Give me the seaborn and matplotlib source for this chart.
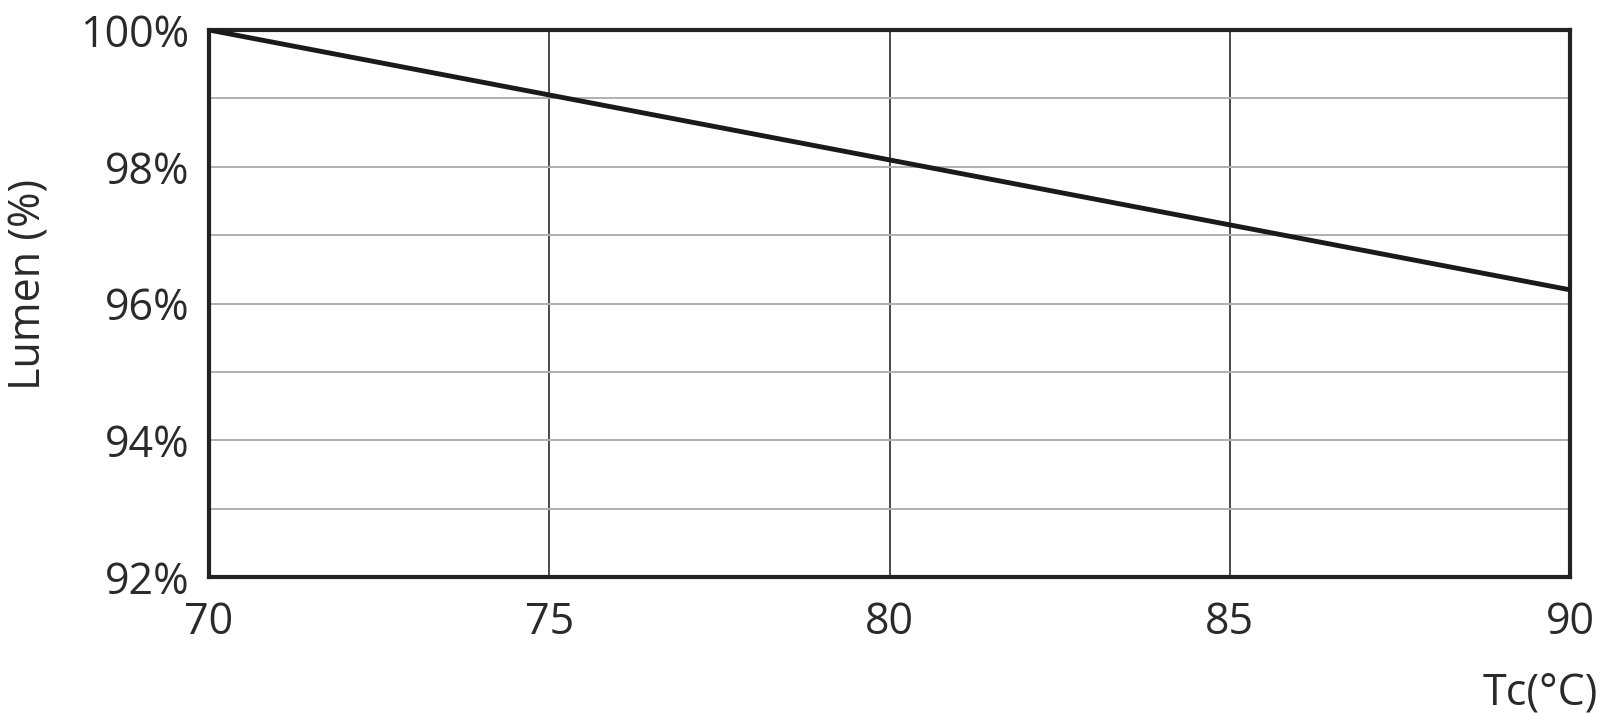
import matplotlib
matplotlib.use("Agg")
import matplotlib.pyplot as plt
import seaborn as sns
import pandas as pd

tc = [70, 75, 80, 85, 90]
lumen = [100.0, 99.05, 98.1, 97.15, 96.2]
xticks = [70, 75, 80, 85, 90]
yticks = [92, 94, 96, 98, 100]
ytick_labels = ["92%", "94%", "96%", "98%", "100%"]

sns.set_theme(style="white")
plt.rcParams['font.family'] = ['Open Sans', 'DejaVu Sans']

fig = plt.figure(figsize=(16, 7.14), dpi=100)
ax = fig.add_axes([209/1600, 1 - 577/714, (1570-209)/1600, (577-30)/714])

df = pd.DataFrame({"Tc": tc, "Lumen": lumen})
sns.lineplot(data=df, x="Tc", y="Lumen", ax=ax, color="#1a1a1a", linewidth=3.5, zorder=5)

ax.set_xlim(70, 90)
ax.set_ylim(92, 100)
for v in [75, 80, 85]:
    ax.axvline(v, color="#4a4a4a", linewidth=1.4, zorder=1)
for h in range(93, 100):
    ax.axhline(h, color="#b0b0b0", linewidth=1.4, zorder=1)

ax.set_xticks(xticks)
ax.set_xticklabels([str(x) for x in xticks])
ax.set_yticks(yticks)
ax.set_yticklabels(ytick_labels)
ax.tick_params(axis="both", length=0, labelsize=31, colors="#2a2a2a")
ax.tick_params(axis="y", pad=14)
ax.tick_params(axis="x", pad=17)

for s in ax.spines.values():
    s.set_visible(True)
    s.set_color("#222222")
    s.set_linewidth(3)

ax.set_xlabel("")
ax.set_ylabel("Lumen (%)", fontsize=31, color="#2a2a2a")
ax.yaxis.set_label_coords(-0.116, 0.535)
fig.text(1598/1600, 1 - 694/714, "Tc(°C)", ha="right", va="center", fontsize=31, color="#2a2a2a")

fig.savefig("out.png", dpi=100, facecolor="white")
